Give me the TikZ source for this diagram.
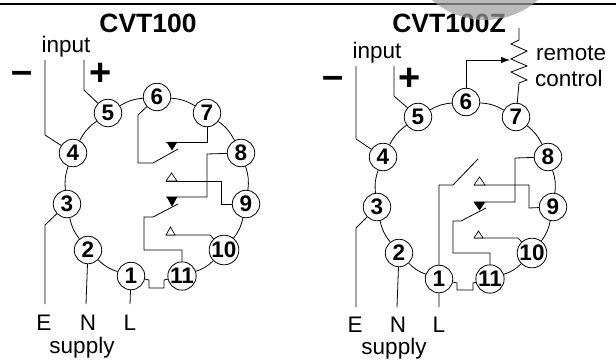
\documentclass[tikz,border=0pt]{standalone}
\usepackage{fontspec}
\setmainfont{Liberation Sans}
\usetikzlibrary{arrows.meta}
\tikzset{
  pin/.style={circle,draw,fill=white,line width=.8pt,minimum size=27.5pt,inner sep=0pt,font=\fontsize{22.5}{22}\selectfont\bfseries},
  ring/.style={line width=.8pt,bend left=13},
  wire/.style={line width=.8pt,line join=miter},
  lbl/.style={font=\fontsize{22.5}{24}\selectfont,inner sep=0pt},
  ttl/.style={font=\fontsize{26.5}{27}\selectfont\bfseries,inner sep=0pt},
  sgn/.style={font=\fontsize{38}{38}\selectfont\bfseries,inner sep=0pt},
  tron/.style={fill=black,draw=black,line width=.5pt},
  troff/.style={fill=white,draw=black,line width=.7pt},
  blob/.style={fill={rgb,255:red,158;green,158;blue,158},fill opacity=.7,draw=none},
}
\begin{document}
\begin{tikzpicture}[x=1pt,y=-1pt]
\useasboundingbox (0,0) rectangle (616,359);
\fill[white] (0,0) rectangle (616,359);
\coordinate (rl) at (0,4); \coordinate (rr) at (616,4);
\draw[line width=1.7pt] (rl) -- (rr);
% ---------- left
\node[ttl] (t1) at (148,23) {CVT100};
\node[lbl] (in1) at (66,47) {input};
\node[sgn] (m1) at (22.5,77) {–};
\node[sgn] (p1) at (101,74) {+};
\node[pin] (a1) at (131,276) {1};
\node[pin] (a2) at (88,250) {2};
\node[pin] (a3) at (67,204) {3};
\node[pin] (a4) at (73,153) {4};
\node[pin] (a5) at (108,113) {5};
\node[pin] (a6) at (157,97) {6};
\node[pin] (a7) at (207,113) {7};
\node[pin] (a8) at (241,153) {8};
\node[pin] (a9) at (246,204) {9};
\node[pin] (a10) at (224,250) {10};
\node[pin] (a11) at (182,276) {11};
\foreach \p/\q in {a1/a2,a2/a3,a3/a4,a4/a5,a5/a6,a6/a7,a7/a8,a8/a9,a9/a10,a10/a11} \draw[ring] (\p) to (\q);
\node[lbl] (e1) at (44,323) {E};
\node[lbl] (n1) at (88,323) {N};
\node[lbl] (l1) at (130,323) {L};
\node[lbl] (s1) at (82,348) {supply};
\coordinate (i1a) at (45,60); \coordinate (i1b) at (84,60);
\coordinate (e1t) at (45,304); \coordinate (n1t) at (86,304); \coordinate (l1t) at (130,304);
\coordinate (sw1) at (178,149); \coordinate (sw2) at (178,204);
\coordinate (c1) at (166,142); \coordinate (c2) at (166,197); \coordinate (c3) at (166,181); \coordinate (c4) at (166,235);
\draw[wire] (i1a) -- (45,135) -- (a4);
\draw[wire] (i1b) -- (84,90) -- (a5);
\draw[wire] (a6) -- (138,115) -- (138,163) -- (153,163) -- (sw1);
\draw[wire] (a7) -- (207,142) -- (c1);
\draw[wire] (a8) -- (207,154) -- (207,197) -- (c2);
\draw[wire] (c3) -- (221,181) -- (221,204) -- (a9);
\draw[wire] (sw2) -- (153,217) -- (144,217) -- (144,250) -- (182,250) -- (a11);
\draw[wire] (c4) -- (210,235) -- (a10);
\draw[wire] (a3) -- (45,225) -- (e1t);
\draw[wire] (a2) -- (n1t);
\draw[wire] (a1) -- (l1t);
\draw[wire] (a1) -- (149,280) -- (149,288) -- (164,288) -- (164,280) -- (a11);
\draw[tron] (167,142) -- (177,142) -- (172,150) -- cycle;
\draw[tron] (167,197) -- (177,197) -- (172,206) -- cycle;
\draw[troff] (166,181) -- (177,181) -- (171.5,173) -- cycle;
\draw[troff] (166,235) -- (175,235) -- (170.5,227) -- cycle;
% ---------- right
\node[ttl] (t2) at (449,23) {CVT100Z};
\node[lbl] (in2) at (377,53) {input};
\node[sgn] (m2) at (333.5,82) {–};
\node[sgn] (p2) at (410,79) {+};
\node[lbl,anchor=west] (r1) at (536,53) {remote};
\node[lbl,anchor=west] (r2) at (535,78) {control};
\node[pin] (b1) at (439,279) {1};
\node[pin] (b2) at (399,253) {2};
\node[pin] (b3) at (377,207) {3};
\node[pin] (b4) at (383,157) {4};
\node[pin] (b5) at (418,117) {5};
\node[pin] (b6) at (466,102) {6};
\node[pin] (b7) at (516,117) {7};
\node[pin] (b8) at (548,157) {8};
\node[pin] (b9) at (553,207) {9};
\node[pin] (b10) at (532,253) {10};
\node[pin] (b11) at (490,279) {11};
\foreach \p/\q in {b1/b2,b2/b3,b3/b4,b4/b5,b5/b6,b6/b7,b7/b8,b8/b9,b9/b10,b10/b11} \draw[ring] (\p) to (\q);
\node[lbl] (e2) at (355,325) {E};
\node[lbl] (n2) at (398,325) {N};
\node[lbl] (l2) at (439,325) {L};
\node[lbl] (s2) at (394,348.5) {supply};
\coordinate (i2a) at (356,66); \coordinate (i2b) at (394,66);
\coordinate (e2t) at (356,307); \coordinate (n2t) at (397,307); \coordinate (l2t) at (439,307);
\coordinate (rt) at (519,28); \coordinate (wp) at (510,60);
\coordinate (sw3) at (478,159); \coordinate (sw4) at (486,208);
\coordinate (d2) at (474,202); \coordinate (d3) at (474,185); \coordinate (d4) at (474,238);
\draw[wire] (i2a) -- (356,139) -- (b4);
\draw[wire] (i2b) -- (394,96) -- (b5);
\draw[wire,-{Latex[length=9pt,width=6.5pt]}] (b6) -- (466,60) -- (wp);
\draw[wire] (rt) -- (519,40) -- (511,44) -- (527,51) -- (511,59) -- (527,66) -- (511,72) -- (527,80) -- (519,83) -- (b7);
\draw[wire] (l2t) -- (b1) -- (439,185) -- (453,185) -- (sw3);
\draw[wire] (b8) -- (515,158) -- (515,202) -- (d2);
\draw[wire] (d3) -- (529,185) -- (529,208) -- (b9);
\draw[wire] (sw4) -- (461,221) -- (453,221) -- (453,253) -- (490,253) -- (b11);
\draw[wire] (d4) -- (518,238) -- (b10);
\draw[wire] (b3) -- (356,228) -- (e2t);
\draw[wire] (b2) -- (n2t);
\draw[wire] (b1) -- (457,283) -- (457,290) -- (473,290) -- (473,283) -- (b11);
\draw[tron] (474,202) -- (485,202) -- (479.5,210) -- cycle;
\draw[troff] (474,185) -- (485,185) -- (479.5,177) -- cycle;
\draw[troff] (474,238) -- (483,238) -- (478.5,231) -- cycle;
\path[blob] (485,-60) circle[radius=80];
\end{tikzpicture}
\end{document}
